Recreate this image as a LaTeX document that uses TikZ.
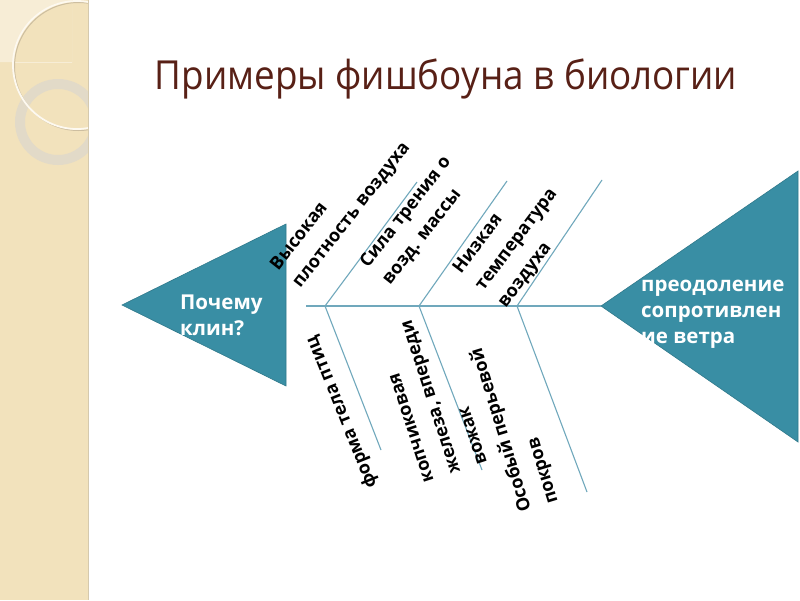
\documentclass[tikz,border=0pt]{standalone}
\usepackage{fontspec}
\setmainfont{Open Sans}
\newfontfamily\titlefont[FakeStretch=0.92]{Open Sans}
\definecolor{stripbeige}{RGB}{242,226,188}
\definecolor{lightbeige}{RGB}{247,237,214}
\definecolor{ringcol}{RGB}{226,218,200}
\definecolor{circline}{RGB}{253,249,240}
\definecolor{circshadow}{RGB}{205,190,160}
\definecolor{tealfill}{RGB}{57,142,164}
\definecolor{bonecol}{RGB}{112,168,188}
\definecolor{titlecol}{RGB}{88,32,22}
\tikzset{
  bone/.style={draw=bonecol, line width=1.1pt},
  wedge/.style={fill=tealfill, draw=tealfill!85!black, line width=0.6pt},
  lab/.style={font=\bfseries\fontsize{18}{28}\selectfont, align=left, inner sep=0pt, text=black},
  wtext/.style={font=\bfseries\fontsize{20.5}{26}\selectfont, align=left, inner sep=0pt, text=white},
}
\begin{document}
\begin{tikzpicture}[x=1pt,y=-1pt]
\path[use as bounding box] (0,0) rectangle (800,600);
\fill[white] (0,0) rectangle (800,600);
% left decorative strip
\fill[stripbeige] (0,0) rectangle (88,600);
\begin{scope}
  \clip (0,0) rectangle (72,62);
  \fill[lightbeige, even odd rule] (0,0) rectangle (72,62) (77,65) circle (64);
\end{scope}
\begin{scope}
  \clip (0,0) rectangle (88,600);
  \fill[ringcol, even odd rule] (58,122) circle (43) (58,122) circle (33);
  \draw[circshadow, line width=1pt] (78.5,66.5) circle (64);
  \draw[circline, line width=1.8pt] (77,65) circle (64);
\end{scope}
\draw[stripbeige!75!gray, line width=0.8pt] (88,0) -- (88,600);
% title
\node[font=\titlefont\fontsize{40}{48}\selectfont, text=titlecol, inner sep=0pt] (title) at (446,79) {Примеры фишбоуна в биологии};
% wedges
\coordinate (ltip) at (122,305);
\coordinate (lt) at (286,224);
\coordinate (lb) at (286,386);
\coordinate (rtip) at (601,306);
\coordinate (rt) at (798,171);
\coordinate (rb) at (798,442);
\path[wedge] (ltip) -- (lt) -- (lb) -- cycle;
\path[wedge] (rtip) -- (rt) -- (rb) -- cycle;
\node[wtext, anchor=west] (why) at (180,315) {Почему\\клин?};
\node[wtext, anchor=west] (goal) at (641,314) {преодоление\\сопротивлен\\ие ветра};
% spine and bones
\coordinate (spineL) at (306,306);
\coordinate (j1) at (325,306);
\coordinate (j2) at (419,306);
\coordinate (j3) at (517,306);
\coordinate (u1) at (417,182);
\coordinate (u2) at (507,181);
\coordinate (u3) at (602,180);
\coordinate (d1) at (381,450);
\coordinate (d2) at (482,470);
\coordinate (d3) at (587,492);
\draw[bone] (spineL) -- (rtip);
\draw[bone] (j1) -- (u1);
\draw[bone] (j2) -- (u2);
\draw[bone] (j3) -- (u3);
\draw[bone] (j1) -- (d1);
\draw[bone] (j2) -- (d2);
\draw[bone] (j3) -- (d3);
% upper labels
\node[lab, rotate=52] (c1) at (341,207) {Высокая\\плотность воздуха};
\node[lab, rotate=52] (c2) at (417,221) {Сила трения о\\возд. массы};
\node[lab, rotate=53] (c3) at (517,240) {Низкая\\температура\\воздуха};
% lower labels
\node[lab, rotate=112] (c4) at (342,412) {форма тела птиц};
\node[lab, rotate=108] (c5) at (431,397) {копчиковая\\железа, впереди\\вожак};
\node[lab, rotate=107] (c6) at (515,426) {Особый перьевой\\покров};
\end{tikzpicture}
\end{document}
